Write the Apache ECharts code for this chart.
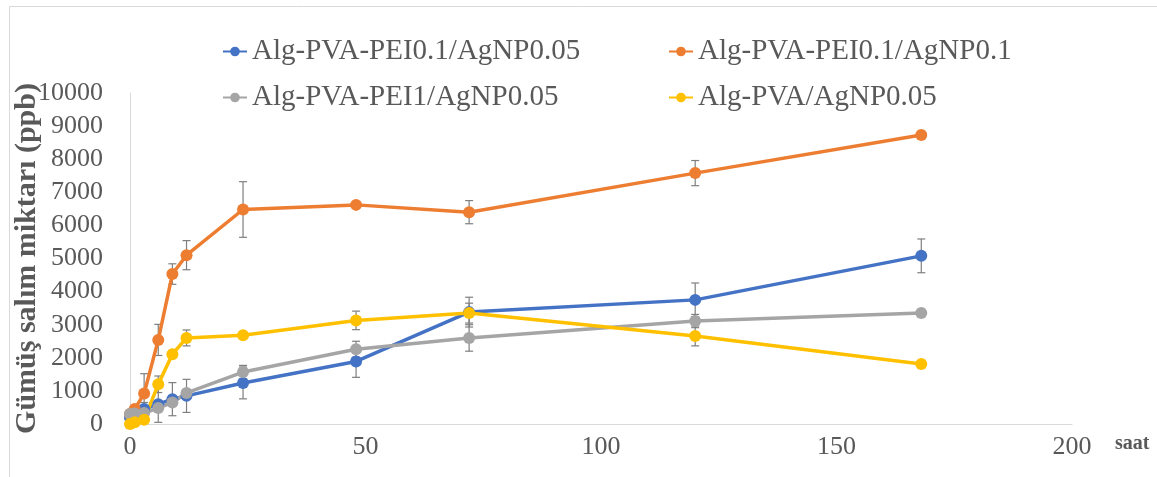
<!DOCTYPE html>
<html>
<head>
<meta charset="utf-8">
<script src="https://cdn.jsdelivr.net/npm/echarts@6/dist/echarts.min.js"></script>
<style>
html,body{margin:0;padding:0;background:#fff;}
#c{width:1157px;height:477px;}
</style>
</head>
<body>
<div id="c"></div>
<script>
// ---- data ----
const hours = [0, 1, 3, 6, 9, 12, 24, 48, 72, 120, 168];
const seriesNames = ['Alg-PVA-PEI0.1/AgNP0.05', 'Alg-PVA-PEI0.1/AgNP0.1', 'Alg-PVA-PEI1/AgNP0.05', 'Alg-PVA/AgNP0.05'];
const pei01_ag005 = [200, 300, 450, 600, 750, 850, 1240, 1890, 3380, 3750, 5080];
const pei01_ag01  = [300, 450, 920, 2540, 4530, 5100, 6480, 6620, 6400, 7580, 8730];
const pei1_ag005  = [300, 320, 330, 480, 650, 940, 1570, 2260, 2600, 3110, 3350];
const pva_ag005   = [0, 50, 130, 1200, 2110, 2600, 2680, 3130, 3350, 2660, 1810];
const err_pei01_ag005 = [0, 150, 200, 550, 500, 500, 480, 480, 450, 510, 510];
const err_pei01_ag01  = [0, 0, 600, 470, 310, 440, 840, 0, 350, 380, 0];
const err_pei1_ag005  = [0, 0, 0, 0, 0, 0, 200, 240, 400, 200, 0];
const err_pva_ag005   = [0, 0, 0, 250, 0, 240, 0, 280, 300, 300, 0];
const xTicks = [0, 50, 100, 150, 200];
const yTicks = [0, 1000, 2000, 3000, 4000, 5000, 6000, 7000, 8000, 9000, 10000];
const yAxisTitle = 'Gümüş salım miktarı (ppb)';
const xAxisTitle = 'saat';

// ---- styling ----
const colors = ['#4472C4', '#ED7D31', '#A5A5A5', '#FFC000'];
const values = [pei01_ag005, pei01_ag01, pei1_ag005, pva_ag005];
const errors = [err_pei01_ag005, err_pei01_ag01, err_pei1_ag005, err_pva_ag005];
const FONT = "'Liberation Serif', 'Times New Roman', serif";
const TXT = '#595959';

const series = [];
values.forEach((vals, i) => {
  series.push({
    name: seriesNames[i] + ' err',
    type: 'custom',
    z: 3,
    silent: true,
    encode: { x: 0, y: 1 },
    data: hours.map((h, k) => [h, vals[k], errors[i][k]]),
    renderItem: function (params, api) {
      const x = api.value(0), y = api.value(1), e = api.value(2);
      if (!e) return null;
      const top = api.coord([x, y + e]);
      const bot = api.coord([x, y - e]);
      const w = 4;
      const st = { stroke: '#7f7f7f', lineWidth: 1.2 };
      return {
        type: 'group',
        children: [
          { type: 'line', shape: { x1: top[0], y1: top[1], x2: bot[0], y2: bot[1] }, style: st },
          { type: 'line', shape: { x1: top[0] - w, y1: top[1], x2: top[0] + w, y2: top[1] }, style: st },
          { type: 'line', shape: { x1: bot[0] - w, y1: bot[1], x2: bot[0] + w, y2: bot[1] }, style: st }
        ]
      };
    }
  });
});
values.forEach((vals, i) => {
  series.push({
    name: seriesNames[i],
    type: 'line',
    z: 4,
    data: hours.map((h, k) => [h, vals[k]]),
    symbol: 'circle',
    symbolSize: 12,
    showSymbol: true,
    itemStyle: { color: colors[i] },
    lineStyle: { color: colors[i], width: 3.5 },
    emphasis: { disabled: true },
    animation: false
  });
});

const legendPos = [[222, 37], [668, 37], [222, 83], [668, 83]];
const legends = seriesNames.map((n, i) => ({
  data: [n],
  left: legendPos[i][0],
  top: legendPos[i][1],
  padding: 0,
  itemWidth: 24,
  itemHeight: 12,
  selectedMode: false,
  textStyle: { fontFamily: FONT, fontSize: 29, color: TXT }
}));

const chart = echarts.init(document.getElementById('c'), null, { renderer: 'canvas' });
chart.setOption({
  animation: false,
  backgroundColor: '#fff',
  color: colors,
  legend: legends,
  grid: { left: 130, right: 85, top: 93, bottom: 53, outerBoundsMode: 'none', containLabel: false },
  xAxis: {
    type: 'value',
    min: xTicks[0],
    max: xTicks[xTicks.length - 1],
    interval: xTicks[1] - xTicks[0],
    name: xAxisTitle,
    nameLocation: 'end',
    nameGap: 43,
    nameMoveOverlap: false,
    nameTextStyle: { fontFamily: FONT, fontSize: 20, fontWeight: 'bold', color: TXT, verticalAlign: 'top', padding: [10, 0, 0, 0] },
    axisLine: { show: true, lineStyle: { color: '#d9d9d9', width: 1 } },
    axisTick: { show: false },
    splitLine: { show: false },
    axisLabel: { fontFamily: FONT, fontSize: 26, color: TXT, margin: 10 }
  },
  yAxis: {
    type: 'value',
    min: yTicks[0],
    max: yTicks[yTicks.length - 1],
    interval: yTicks[1] - yTicks[0],
    name: yAxisTitle,
    nameLocation: 'middle',
    nameRotate: 90,
    nameGap: 88,
    nameMoveOverlap: false,
    nameTextStyle: { fontFamily: FONT, fontSize: 30, fontWeight: 'bold', color: TXT },
    axisLine: { show: true, lineStyle: { color: '#d9d9d9', width: 1 } },
    axisTick: { show: false },
    splitLine: { show: false },
    axisLabel: { fontFamily: FONT, fontSize: 26, color: TXT, margin: 27, formatter: function (v) { return String(v); } }
  },
  graphic: [{
    type: 'rect',
    left: 7, top: 4,
    shape: { width: 1250, height: 600 },
    style: { fill: 'none', stroke: '#d9d9d9', lineWidth: 1 },
    silent: true, z: -10
  }],
  series: series
});
</script>
</body>
</html>
